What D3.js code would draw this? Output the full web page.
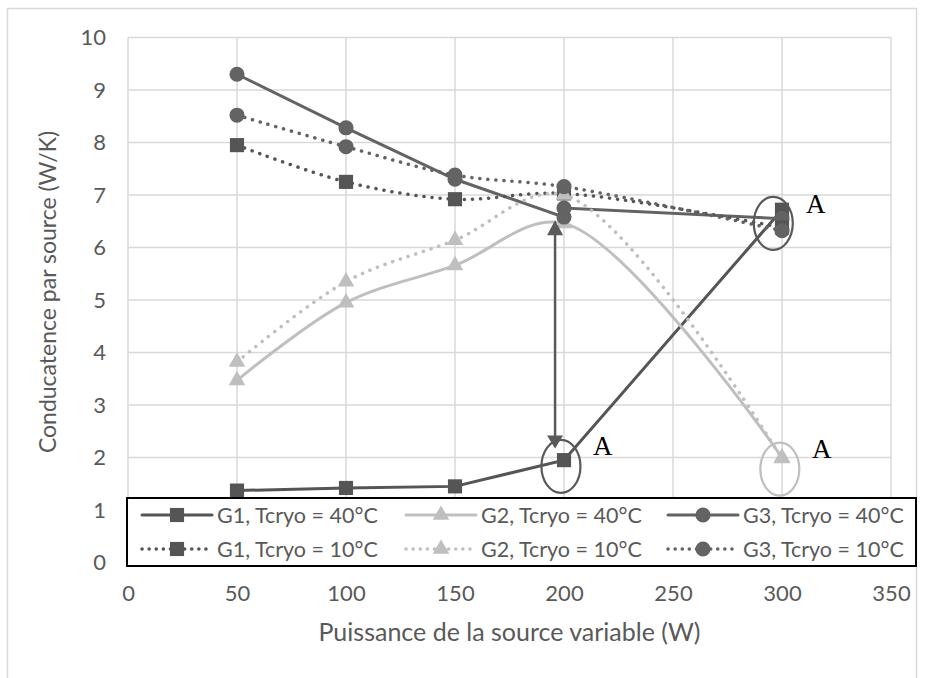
<!DOCTYPE html>
<html>
<head>
<meta charset="utf-8">
<script src="https://cdn.jsdelivr.net/npm/d3@7/dist/d3.min.js"></script>
<style>
    body { margin: 0; background: #fff; }
    text { font-family: Lato, "Open Sans", sans-serif; fill: #595959; }
</style>
</head>
<body>
<svg id="chart" width="925" height="678"></svg>
<script>
// data
var powers = [50, 100, 150, 200, 300];
var g1_40 = [1.37, 1.42, 1.45, 1.95, 6.72];
var g2_40 = [3.47, 4.95, 5.66, 6.46, 2.0];
var powersG3_40 = [50, 100, 150, 200, 200, 300];   // line jumps at 200
var g3_40 = [9.3, 8.28, 7.3, 6.58, 6.75, 6.55];
var g1_10 = [7.95, 7.25, 6.92, 7.03, 6.38];
var g2_10 = [3.82, 5.35, 6.14, 7.0, 1.98];
var g3_10 = [8.52, 7.92, 7.38, 7.16, 6.32];

var seriesNames = ["G1, Tcryo = 40°C", "G2, Tcryo = 40°C", "G3, Tcryo = 40°C",
                   "G1, Tcryo = 10°C", "G2, Tcryo = 10°C", "G3, Tcryo = 10°C"];
var xTicks = [0, 50, 100, 150, 200, 250, 300, 350];
var yTicks = [0, 1, 2, 3, 4, 5, 6, 7, 8, 9, 10];

// annotations, in data units
var ellipses = [
    { x: 198.6, y: 1.83, color: '#595959' },
    { x: 296, y: 6.46, color: '#595959' },
    { x: 299, y: 1.78, color: '#bfbfbf' }
];
var labelsA = [
    { x: 311, y: 6.66 },
    { x: 213.3, y: 2.05 },
    { x: 313.8, y: 1.99 }
];
var arrow = { x: 195.9, y0: 2.17, y1: 6.52 };

var dark = '#555555', darkCircle = '#636363', light = '#bfbfbf';

var series = [
    { name: seriesNames[0], xs: powers, ys: g1_40, color: dark, dotted: false, symbol: d3.symbolSquare, smooth: false },
    { name: seriesNames[1], xs: powers, ys: g2_40, color: light, dotted: false, symbol: d3.symbolTriangle, smooth: true },
    { name: seriesNames[2], xs: powersG3_40, ys: g3_40, color: darkCircle, dotted: false, symbol: d3.symbolCircle, smooth: false },
    { name: seriesNames[3], xs: powers, ys: g1_10, color: dark, dotted: true, symbol: d3.symbolSquare, smooth: true },
    { name: seriesNames[4], xs: powers, ys: g2_10, color: light, dotted: true, symbol: d3.symbolTriangle, smooth: true },
    { name: seriesNames[5], xs: powers, ys: g3_10, color: darkCircle, dotted: true, symbol: d3.symbolCircle, smooth: true }
];

var symbolSize = function(sym) {
    if (sym === d3.symbolSquare) return 200;
    if (sym === d3.symbolCircle) return 180;
    return 120;
};

var svg = d3.select('#chart');

var x = d3.scaleLinear().domain([0, 350]).range([128, 891]),
    y = d3.scaleLinear().domain([0, 10]).range([562.5, 37.5]);

// outer frame
svg.append('rect')
    .attr('x', 7.5).attr('y', 8.5)
    .attr('width', 909).attr('height', 700)
    .attr('fill', 'none')
    .attr('stroke', '#d9d9d9')
    .attr('stroke-width', 1.5);

// gridlines
var grid = svg.append('g').attr('class', 'grid');
grid.selectAll('.hg').data(yTicks).enter().append('line')
    .attr('x1', x(0)).attr('x2', x(350))
    .attr('y1', function(d) { return y(d); })
    .attr('y2', function(d) { return y(d); })
    .attr('stroke', '#d9d9d9').attr('stroke-width', 1.5);
grid.selectAll('.vg').data(xTicks).enter().append('line')
    .attr('y1', y(0)).attr('y2', y(10))
    .attr('x1', function(d) { return x(d); })
    .attr('x2', function(d) { return x(d); })
    .attr('stroke', '#d9d9d9').attr('stroke-width', 1.5);

// axes
var xAxis = svg.append('g')
    .attr('transform', 'translate(0,' + y(0) + ')')
    .call(d3.axisBottom(x).tickValues(xTicks).tickSize(0).tickPadding(23));
var yAxis = svg.append('g')
    .attr('transform', 'translate(' + x(0) + ',0)')
    .call(d3.axisLeft(y).tickValues(yTicks).tickSize(0).tickPadding(22));
[xAxis, yAxis].forEach(function(ax) {
    ax.select('.domain').remove();
    ax.selectAll('text')
        .style('font-family', 'Lato, "Open Sans", sans-serif')
        .style('font-size', '22px')
        .attr('fill', '#595959');
});

svg.append('text')
    .attr('x', (x(0) + x(350)) / 2).attr('y', 641)
    .attr('text-anchor', 'middle')
    .style('font-size', '25px')
    .text('Puissance de la source variable (W)');

svg.append('text')
    .attr('transform', 'translate(56,292) rotate(-90)')
    .attr('text-anchor', 'middle')
    .style('font-size', '23px')
    .text('Conducatence par source (W/K)');

// series
var plot = svg.append('g').attr('class', 'series');
series.forEach(function(s) {
    var pts = s.xs.map(function(v, i) { return [v, s.ys[i]]; });
    var line = d3.line()
        .x(function(d) { return x(d[0]); })
        .y(function(d) { return y(d[1]); })
        .curve(s.smooth ? d3.curveCatmullRom.alpha(0.5) : d3.curveLinear);

    var g = plot.append('g');
    g.append('path')
        .attr('d', line(pts))
        .attr('fill', 'none')
        .attr('stroke', s.color)
        .attr('stroke-width', s.dotted ? 3.5 : 3)
        .attr('stroke-linecap', 'round')
        .attr('stroke-dasharray', s.dotted ? '0.1 8' : null);

    g.selectAll('path.mark').data(pts).enter().append('path')
        .attr('class', 'mark')
        .attr('transform', function(d) { return 'translate(' + x(d[0]) + ',' + y(d[1]) + ')'; })
        .attr('d', d3.symbol().type(s.symbol).size(symbolSize(s.symbol)))
        .attr('fill', s.color);
});

// annotations
var ann = svg.append('g').attr('class', 'annotations');
ann.selectAll('ellipse').data(ellipses).enter().append('ellipse')
    .attr('cx', function(d) { return x(d.x); })
    .attr('cy', function(d) { return y(d.y); })
    .attr('rx', 19.5).attr('ry', 26.5)
    .attr('fill', 'none')
    .attr('stroke', function(d) { return d.color; })
    .attr('stroke-width', 2.2);

var ax = x(arrow.x), ay0 = y(arrow.y0), ay1 = y(arrow.y1);
ann.append('line')
    .attr('x1', ax).attr('x2', ax)
    .attr('y1', ay0 - 10).attr('y2', ay1 + 10)
    .attr('stroke', '#595959').attr('stroke-width', 2.5);
ann.append('path')
    .attr('d', 'M' + ax + ',' + ay1 + ' l-8,15 l16,0 z')
    .attr('fill', '#595959');
ann.append('path')
    .attr('d', 'M' + ax + ',' + ay0 + ' l-8,-13 l16,0 z')
    .attr('fill', '#595959');

ann.selectAll('text.lab').data(labelsA).enter().append('text')
    .attr('class', 'lab')
    .attr('x', function(d) { return x(d.x); })
    .attr('y', function(d) { return y(d.y); })
    .style('font-family', '"Liberation Serif", "DejaVu Serif", serif')
    .style('font-size', '27px')
    .style('fill', '#000')
    .text('A');

// legend
var legend = svg.append('g').attr('class', 'legend');
legend.append('rect')
    .attr('x', 127).attr('y', 498)
    .attr('width', 789).attr('height', 68)
    .attr('fill', '#fff')
    .attr('stroke', '#000')
    .attr('stroke-width', 2);

var colX = [142, 406, 668], rowY = [515, 549];
series.forEach(function(s, i) {
    var cx = colX[i % 3], cy = rowY[Math.floor(i / 3)];
    var item = legend.append('g').attr('transform', 'translate(' + cx + ',' + cy + ')');
    item.append('line')
        .attr('x1', 0).attr('x2', 70)
        .attr('stroke', s.color)
        .attr('stroke-width', s.dotted ? 3.5 : 3)
        .attr('stroke-linecap', 'round')
        .attr('stroke-dasharray', s.dotted ? '0.1 7' : null);
    item.append('path')
        .attr('transform', 'translate(35,0)')
        .attr('d', d3.symbol().type(s.symbol).size(symbolSize(s.symbol)))
        .attr('fill', s.color);
    item.append('text')
        .attr('x', 75).attr('dy', '0.35em')
        .style('font-size', '21.5px')
        .text(s.name);
});
</script>
</body>
</html>
